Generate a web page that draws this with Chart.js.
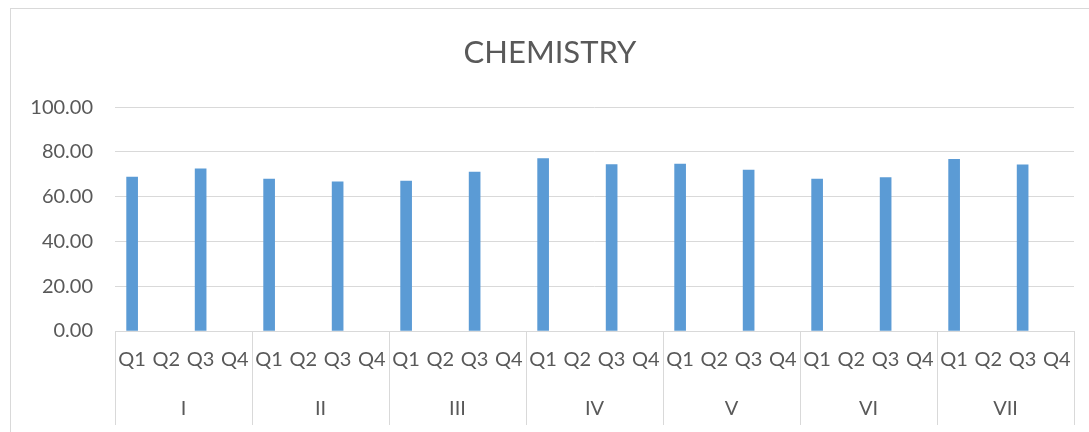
<!DOCTYPE html>
<html>
<head>
<meta charset="utf-8">
<script src="https://cdn.jsdelivr.net/npm/chart.js@4/dist/chart.umd.min.js"></script>
<style>
  html, body { margin: 0; padding: 0; background: #fff; overflow: hidden; }
  .frame {
    position: absolute; left: 10px; top: 8px;
    width: 1100px; height: 440px;
    border: 1px solid #d9d9d9; box-sizing: border-box;
  }
  .wrap { position: absolute; left: 1px; top: 1px; width: 1078px; height: 423px; }
</style>
</head>
<body>
<div class="frame">
  <div class="wrap"><canvas id="chem-chart"></canvas></div>
</div>
<script>
const groups = ['I', 'II', 'III', 'IV', 'V', 'VI', 'VII'];
const quarters = ['Q1', 'Q2', 'Q3', 'Q4'];
// only Q1 and Q3 have marks in the picture
const q1Scores = [68.8, 67.9, 67.0, 77.0, 74.6, 67.9, 76.7];
const q3Scores = [72.5, 66.6, 71.0, 74.4, 71.9, 68.6, 74.2];
const yTicks = [0, 20, 40, 60, 80, 100];

const textColor = '#595959';
const lineColor = '#d9d9d9';

const labels = [];
const values = [];
groups.forEach((g, i) => {
    quarters.forEach(q => labels.push(q));
    values.push(q1Scores[i], null, q3Scores[i], null);
});

// vertical separators between the groups, through both label rows
const groupLines = {
    id: 'groupLines',
    afterDraw(chart) {
        const x = chart.scales.x;
        const x2 = chart.scales.x2;
        const half = (x.getPixelForValue(1) - x.getPixelForValue(0)) / 2;
        const ctx = chart.ctx;
        ctx.save();
        ctx.strokeStyle = lineColor;
        ctx.lineWidth = 1;
        for (let g = 0; g <= groups.length; g++) {
            const px = g < groups.length
                ? x.getPixelForValue(g * quarters.length) - half
                : x.getPixelForValue(labels.length - 1) + half;
            ctx.beginPath();
            ctx.moveTo(Math.round(px) + 0.5, x.top);
            ctx.lineTo(Math.round(px) + 0.5, x2.bottom + 5);
            ctx.stroke();
        }
        ctx.restore();
    }
};

Chart.defaults.font.family = 'Lato, "DejaVu Sans", sans-serif';
Chart.defaults.color = textColor;

new Chart(document.getElementById('chem-chart'), {
    type: 'bar',
    data: {
        labels: labels,
        datasets: [{
            label: 'Chemistry',
            data: values,
            backgroundColor: '#5b9bd5',
            barThickness: 11,
            xAxisID: 'x'
        }]
    },
    options: {
        responsive: true,
        maintainAspectRatio: false,
        animation: false,
        layout: { padding: { left: 14, right: 16, bottom: 13, top: 0 } },
        plugins: {
            legend: { display: false },
            tooltip: { enabled: false },
            title: {
                display: true,
                text: 'CHEMISTRY',
                color: textColor,
                font: { size: 31, weight: 'normal' },
                padding: { top: 24, bottom: 36 }
            }
        },
        scales: {
            y: {
                min: 0,
                max: 100,
                afterBuildTicks: axis => { axis.ticks = yTicks.map(v => ({ value: v })); },
                afterFit: axis => { axis.width = 89; },
                ticks: {
                    font: { size: 20 },
                    padding: 22,
                    callback: v => v.toFixed(2)
                },
                grid: { color: lineColor, drawTicks: false },
                border: { display: false }
            },
            x: {
                type: 'category',
                afterFit: axis => { axis.height = 48; },
                grid: { display: false, drawTicks: false },
                border: { display: true, color: lineColor },
                ticks: { font: { size: 20 }, padding: 17, autoSkip: false, maxRotation: 0 }
            },
            x2: {
                type: 'category',
                labels: groups,
                position: 'bottom',
                offset: true,
                afterFit: axis => { axis.height = 41; },
                grid: { display: false, drawTicks: false },
                border: { display: false },
                ticks: { font: { size: 20 }, padding: 18, autoSkip: false, maxRotation: 0 }
            }
        }
    },
    plugins: [groupLines]
});
</script>
</body>
</html>
